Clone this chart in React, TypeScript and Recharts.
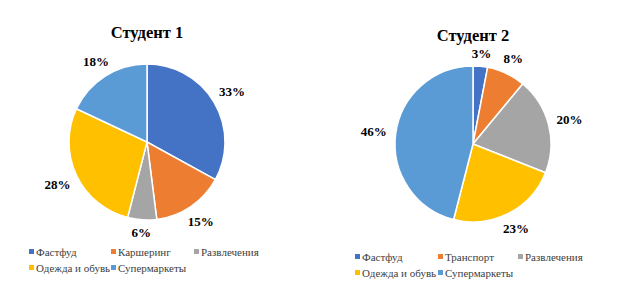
import React from "react";
import { PieChart, Pie, Cell } from "recharts";

const colors = ["#4472C4", "#ED7D31", "#A5A5A5", "#FFC000", "#5B9BD5"];

const student1Categories = ["Фастфуд", "Каршеринг", "Развлечения", "Одежда и обувь", "Супермаркеты"];
const student1Values = [33, 15, 6, 28, 18];

const student2Categories = ["Фастфуд", "Транспорт", "Развлечения", "Одежда и обувь", "Супермаркеты"];
const student2Values = [3, 8, 20, 23, 46];

const titles = ["Студент 1", "Студент 2"];

const FONT = '"Liberation Serif", "Times New Roman", Times, serif';
const RAD = Math.PI / 180;

const makeData = (cats: string[], vals: number[]) =>
  cats.map((name, i) => ({ name, value: vals[i] }));

const renderLabel = (props: any) => {
  const { cx, cy, outerRadius, midAngle, percent } = props;
  const sx = Math.cos(-midAngle * RAD);
  const sy = Math.sin(-midAngle * RAD);
  const dist = outerRadius + 12 + 10 * Math.abs(sx);
  const x = cx + dist * sx;
  const y = cy + dist * sy;
  return (
    <text
      x={x}
      y={y}
      textAnchor="middle"
      dominantBaseline="central"
      style={{ fontFamily: FONT, fontWeight: "bold", fontSize: 13 }}
      fill="#000"
    >
      {`${Math.round(percent * 100)}%`}
    </text>
  );
};

const Legend = ({ cats, x0, cols, y0 }: { cats: string[]; x0: number; cols: number[]; y0: number }) => (
  <g>
    {cats.map((c, i) => {
      const row = Math.floor(i / 3);
      const col = i % 3;
      const x = x0 + cols[col];
      const y = y0 + row * 16;
      return (
        <g key={i}>
          <rect x={x} y={y - 3} width={5} height={5} fill={colors[i]} />
          <text x={x + 7} y={y} dominantBaseline="central" style={{ fontFamily: FONT, fontSize: 11 }} fill="#404040">
            {c}
          </text>
        </g>
      );
    })}
  </g>
);

export default function App() {
  const d1 = makeData(student1Categories, student1Values);
  const d2 = makeData(student2Categories, student2Values);
  return (
    <div style={{ position: "absolute", left: 0, top: 0, width: 623, height: 295, background: "#fff" }}>
      <PieChart width={623} height={295} margin={{ top: 0, right: 0, bottom: 0, left: 0 }}>
        <text x={147} y={32} textAnchor="middle" dominantBaseline="central" style={{ fontFamily: FONT, fontWeight: "bold", fontSize: 16.5 }} fill="#000">
          {titles[0]}
        </text>
        <text x={473} y={35} textAnchor="middle" dominantBaseline="central" style={{ fontFamily: FONT, fontWeight: "bold", fontSize: 16.5 }} fill="#000">
          {titles[1]}
        </text>
        <Pie
          data={d1}
          dataKey="value"
          nameKey="name"
          cx={147}
          cy={142}
          outerRadius={78}
          startAngle={90}
          endAngle={-270}
          stroke="#fff"
          strokeWidth={1.5}
          label={renderLabel}
          labelLine={false}
          isAnimationActive={false}
        >
          {d1.map((_, i) => (
            <Cell key={i} fill={colors[i]} />
          ))}
        </Pie>
        <Pie
          data={d2}
          dataKey="value"
          nameKey="name"
          cx={473}
          cy={144}
          outerRadius={78}
          startAngle={90}
          endAngle={-270}
          stroke="#fff"
          strokeWidth={1.5}
          label={renderLabel}
          labelLine={false}
          isAnimationActive={false}
        >
          {d2.map((_, i) => (
            <Cell key={i} fill={colors[i]} />
          ))}
        </Pie>
        <Legend cats={student1Categories} x0={29} cols={[0, 82, 165]} y0={252} />
        <Legend cats={student2Categories} x0={355} cols={[0, 83, 163]} y0={257} />
      </PieChart>
    </div>
  );
}
